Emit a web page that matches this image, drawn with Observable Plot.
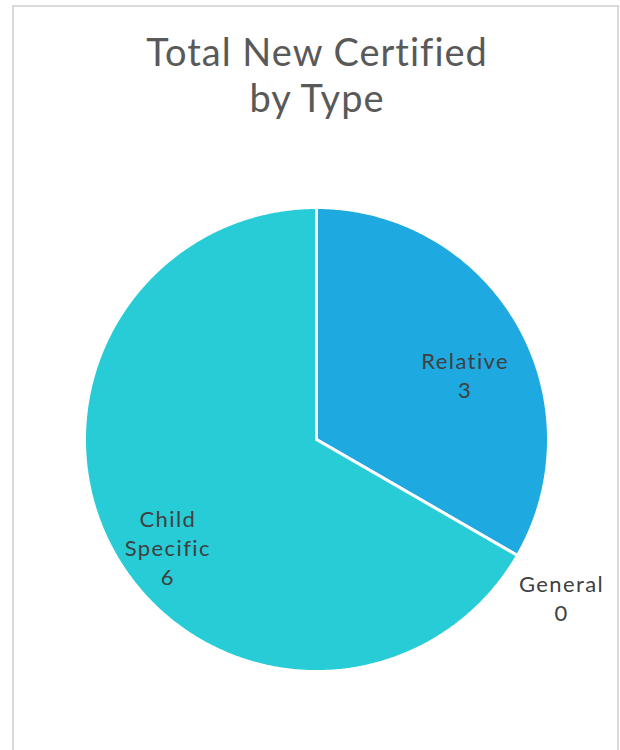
<!DOCTYPE html>
<html>
<head>
<meta charset="utf-8">
<script src="https://cdn.jsdelivr.net/npm/d3@7"></script>
<script src="https://cdn.jsdelivr.net/npm/@observablehq/plot@0.6"></script>
<style>
  html, body { margin: 0; padding: 0; background: #fff; }
  #frame {
    position: absolute; left: 12px; top: 5px; width: 603px; height: 760px;
    border-top: 2px solid #d9d9d9; border-left: 2px solid #d9d9d9; border-right: 2px solid #d9d9d9;
  }
  #title {
    position: absolute; left: 0; top: 28px; width: 634px; text-align: center;
    font-family: "Lato", sans-serif; font-size: 38px; line-height: 46px; color: #595959;
    letter-spacing: 1px;
  }
  #chart { position: absolute; left: 0; top: 130px; }
  #chart text { letter-spacing: 1.4px; }
</style>
</head>
<body>
<div id="frame"></div>
<div id="title">Total New Certified<br>by Type</div>
<div id="chart"></div>
<script>
// Data
const categories = ["Relative", "General", "Child Specific"];
const counts = [3, 0, 6];
const colors = ["#1EA9E1", "#1EA9E1", "#27CCD6"];
const labelLines = [["Relative"], ["General"], ["Child", "Specific"]];

const pie = d3.pie().sort(null).value(d => d.count);
const data = categories.map((c, i) => ({category: c, count: counts[i], color: colors[i], lines: labelLines[i]}));
const arcs = pie(data);

// Build slice outlines in unit-circle coordinates (angle measured clockwise from top)
const polys = [];
arcs.forEach((a, k) => {
  if (a.endAngle - a.startAngle <= 0) return;
  const n = Math.max(2, Math.ceil((a.endAngle - a.startAngle) / (Math.PI / 360)));
  polys.push({k, x: 0, y: 0, color: a.data.color});
  for (let i = 0; i <= n; i++) {
    const t = a.startAngle + (a.endAngle - a.startAngle) * i / n;
    polys.push({k, x: Math.sin(t), y: Math.cos(t), color: a.data.color});
  }
  polys.push({k, x: 0, y: 0, color: a.data.color});
});

// Labels: inside slices at 0.74 r, empty slices outside the pie
const labels = [];
arcs.forEach(a => {
  const mid = (a.startAngle + a.endAngle) / 2;
  const inside = a.data.count > 0;
  const r = inside ? 0.74 : 1.22;
  const lines = [...a.data.lines, String(a.data.count)];
  labels.push({x: Math.sin(mid) * r, y: Math.cos(mid) * r, text: lines.join("\n"), inside});
});

const cx = 316, cy = 309, R = 232;
const chart = Plot.plot({
  width: 620,
  height: 620,
  margin: 0,
  x: {domain: [-1, 1], range: [cx - R, cx + R], axis: null},
  y: {domain: [-1, 1], range: [cy + R, cy - R], axis: null},
  marks: [
    Plot.line(polys, {x: "x", y: "y", z: "k", fill: "color", stroke: "#ffffff", strokeWidth: 3, strokeLinejoin: "miter", curve: "linear"}),
    Plot.text(labels.filter(d => d.inside), {x: "x", y: "y", text: "text", dy: 21, fill: "#404040", fontSize: 22, lineHeight: 1.32, fontFamily: "Lato, sans-serif"}),
    Plot.text(labels.filter(d => !d.inside), {x: "x", y: "y", text: "text", dy: 16, fill: "#404040", fontSize: 22, lineHeight: 1.32, fontFamily: "Lato, sans-serif"})
  ]
});
document.getElementById("chart").appendChild(chart);
</script>
</body>
</html>
